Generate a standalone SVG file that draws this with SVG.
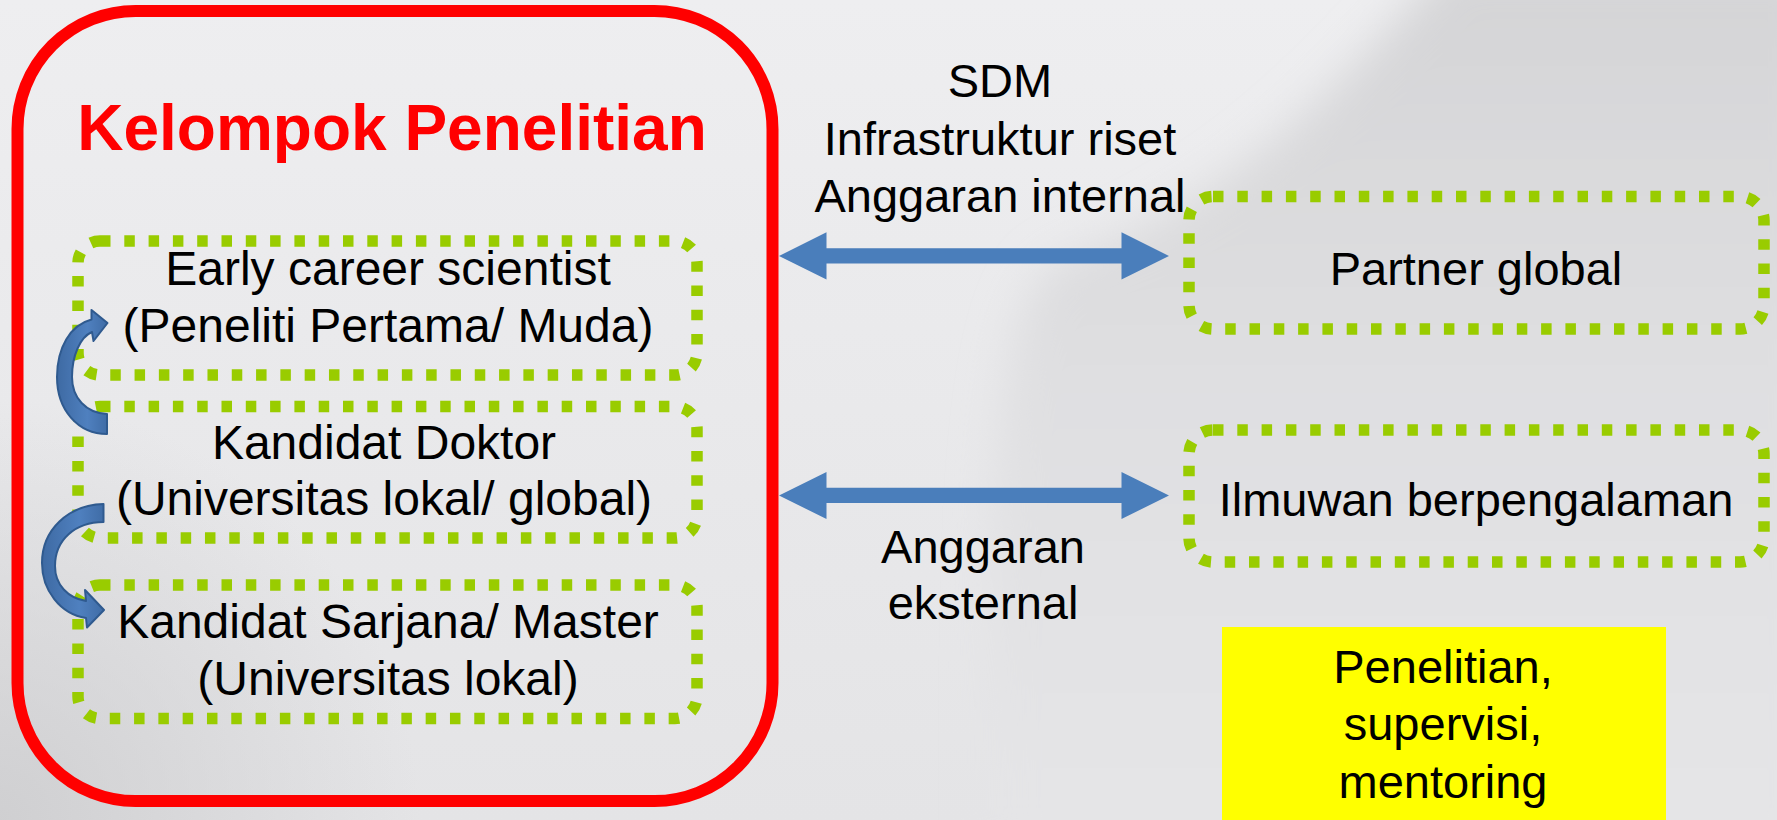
<svg xmlns="http://www.w3.org/2000/svg" width="1777" height="820" viewBox="0 0 1777 820">
<style>
.t{font-family:"Liberation Sans",Arial,sans-serif;font-size:47px;fill:#000;text-anchor:middle}
.tb{font-size:48px}
.title{font-family:"Liberation Sans",Arial,sans-serif;font-size:64px;font-weight:bold;fill:#ff0000;text-anchor:middle}
.dot{fill:none;stroke:#99cc00;stroke-width:11.5;stroke-dasharray:10.5 13.8}
.dbl{fill:#4a7ebb}
.curv{fill:url(#cg);stroke:#2f5a8f;stroke-width:2;stroke-linejoin:round}
</style>
<defs>
<linearGradient id="bg" x1="0" y1="0" x2="0" y2="1">
<stop offset="0" stop-color="#eeeef0"/>
<stop offset="1" stop-color="#e4e4e6"/>
</linearGradient>
<linearGradient id="shade" gradientUnits="userSpaceOnUse" x1="0" y1="0" x2="0" y2="820">
<stop offset="0" stop-color="#d5d5d7"/>
<stop offset="0.45" stop-color="#dfdfe1"/>
<stop offset="1" stop-color="#e5e5e7"/>
</linearGradient>
<radialGradient id="corner" gradientUnits="userSpaceOnUse" cx="0" cy="820" r="420">
<stop offset="0" stop-color="#cdcdcf" stop-opacity="0.9"/>
<stop offset="1" stop-color="#cdcdcf" stop-opacity="0"/>
</radialGradient>
<linearGradient id="cg" x1="0" y1="0" x2="1" y2="0">
<stop offset="0" stop-color="#3e6aa3"/>
<stop offset="0.6" stop-color="#4f80bf"/>
<stop offset="1" stop-color="#3f6ca6"/>
</linearGradient>
<filter id="blur" x="-10%" y="-10%" width="120%" height="120%">
<feGaussianBlur stdDeviation="22"/>
</filter>
</defs>

<g id="background">
<rect x="0" y="0" width="1777" height="820" fill="url(#bg)"/>
<path d="M1450 -40 C1330 100 1230 200 1060 262 C990 300 990 520 990 860 L1820 860 L1820 -40 Z" fill="url(#shade)" filter="url(#blur)"/>
<rect x="0" y="400" width="420" height="420" fill="url(#corner)"/>
</g>

<g id="kelompok-penelitian">
<rect x="17.5" y="11" width="755" height="790" rx="118" ry="118" fill="none" stroke="#ff0000" stroke-width="12"/>
<text class="title" x="392" y="150">Kelompok Penelitian</text>
</g>

<g id="early-career">
<rect class="dot" x="78" y="241" width="619" height="134" rx="22"/>
<text class="t tb" x="388" y="285">Early career scientist</text>
<text class="t tb" x="388" y="342">(Peneliti Pertama/ Muda)</text>
</g>

<g id="kandidat-doktor">
<rect class="dot" x="78" y="406.5" width="619" height="131.5" rx="22"/>
<text class="t tb" x="384" y="459">Kandidat Doktor</text>
<text class="t tb" x="384" y="515">(Universitas lokal/ global)</text>
</g>

<g id="kandidat-sarjana">
<rect class="dot" x="78" y="585" width="619" height="133.5" rx="22"/>
<text class="t tb" x="388" y="638">Kandidat Sarjana/ Master</text>
<text class="t tb" x="388" y="695">(Universitas lokal)</text>
</g>

<g id="partner-global">
<rect class="dot" x="1189" y="196.5" width="575" height="132.5" rx="24"/>
<text class="t" x="1476" y="285">Partner global</text>
</g>

<g id="ilmuwan">
<rect class="dot" x="1189" y="430" width="575" height="132" rx="24"/>
<text class="t" x="1476" y="516">Ilmuwan berpengalaman</text>
</g>

<g id="penelitian-supervisi">
<rect x="1222" y="627" width="444" height="200" fill="#ffff00"/>
<text class="t" x="1443" y="683">Penelitian,</text>
<text class="t" x="1443" y="740">supervisi,</text>
<text class="t" x="1443" y="798">mentoring</text>
</g>

<g id="labels">
<text class="t" x="1000" y="97">SDM</text>
<text class="t" x="1000" y="155">Infrastruktur riset</text>
<text class="t" x="1000" y="212">Anggaran internal</text>
<text class="t" x="983" y="563">Anggaran</text>
<text class="t" x="983" y="619">eksternal</text>
</g>

<g id="connectors">
<path class="dbl" d="M779 256 L826.5 232.3 L826.5 248.3 L1121.5 248.3 L1121.5 232.3 L1169 256 L1121.5 279.5 L1121.5 263.5 L826.5 263.5 L826.5 279.5 Z"/>
<path class="dbl" d="M779 495.5 L826.5 472 L826.5 487.8 L1121.5 487.8 L1121.5 472 L1169 495.5 L1121.5 519 L1121.5 503 L826.5 503 L826.5 519 Z"/>
<path class="curv" d="M107 414 C86 413 72 398 72 377 C72 356 80 337 92 332 L93.5 341 L107.5 323 L91.5 310 L91.5 319.5 C70 325 57 348 57 377 C57 410 78 434 107 434 Z"/>
<path class="curv" d="M103.5 504 C68 505 42 530 42 563 C42 590 60 614 86 618 L87 627.5 L104 610 L85 590 L86 601 C68 598 55 585 55 566 C55 540 75 522 103.5 522 Z"/>
</g>
</svg>
